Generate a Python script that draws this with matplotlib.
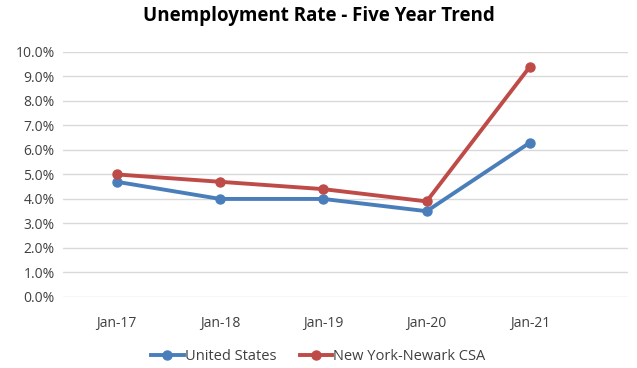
import matplotlib.pyplot as plt
from matplotlib.ticker import FuncFormatter

# Data
periods = ["Jan-17", "Jan-18", "Jan-19", "Jan-20", "Jan-21"]
us_rate = [4.7, 4.0, 4.0, 3.5, 6.3]
ny_rate = [5.0, 4.7, 4.4, 3.9, 9.4]

plt.rcParams['font.family'] = ['Open Sans', 'DejaVu Sans']

fig = plt.figure(figsize=(6.37, 3.68), dpi=100)
ax = fig.add_axes([0.099, 0.193, 0.887, 0.666])

x = range(len(periods))
ax.plot(x, us_rate, color="#4a7ebb", lw=2.8, marker="o", ms=6.5, label="United States")
ax.plot(x, ny_rate, color="#be4b48", lw=2.8, marker="o", ms=6.5, label="New York-Newark CSA")

ax.set_ylim(0, 10)
ax.set_yticks(range(0, 11))
ax.yaxis.set_major_formatter(FuncFormatter(lambda v, p: f"{v:.1f}%"))
ax.set_xlim(-0.52, 4.95)
ax.set_xticks(list(x))
ax.set_xticklabels(periods)
ax.grid(axis="y", color="#d9d9d9", lw=1)
ax.set_axisbelow(True)
for s in ax.spines.values():
    s.set_visible(False)
ax.tick_params(length=0, labelsize=10, colors="#404040")
ax.tick_params(axis="x", pad=14)
ax.tick_params(axis="y", pad=6)

fig.suptitle("Unemployment Rate - Five Year Trend", y=0.985, fontsize=13.5, fontweight="bold")
fig.legend(loc="lower center", bbox_to_anchor=(0.5, -0.025), ncol=2, frameon=False,
           fontsize=10.5, handlelength=2.2, columnspacing=1.6, handletextpad=0.1,
           labelcolor="#404040")

fig.savefig("out.png", dpi=100)
